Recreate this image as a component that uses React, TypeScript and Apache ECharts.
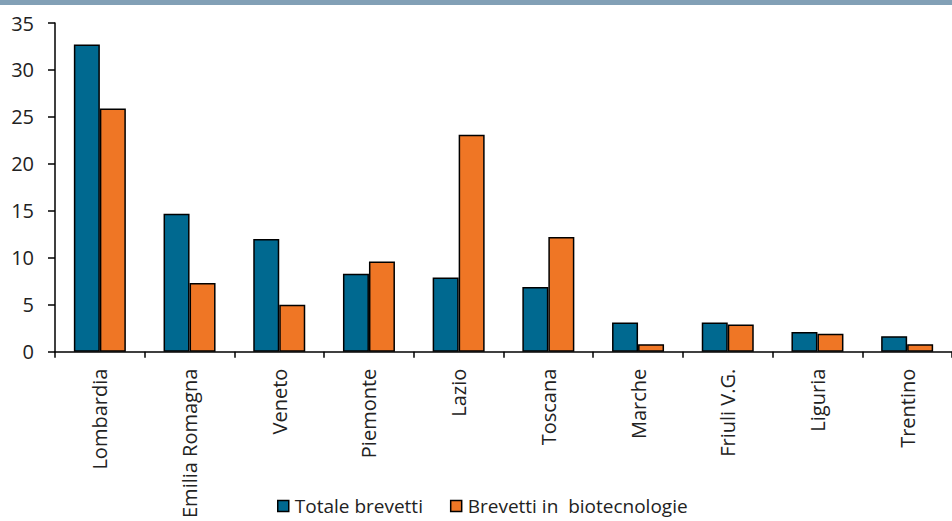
import React, { useEffect, useRef } from "react";
import * as echarts from "echarts";

const categories = [
  "Lombardia",
  "Emilia Romagna",
  "Veneto",
  "Piemonte",
  "Lazio",
  "Toscana",
  "Marche",
  "Friuli V.G.",
  "Liguria",
  "Trentino",
];
const totaleBrevetti = [32.7, 14.7, 12.0, 8.3, 7.9, 6.9, 3.1, 3.1, 2.1, 1.65];
const brevettiBiotec = [25.9, 7.3, 5.0, 9.6, 23.1, 12.2, 0.8, 2.9, 1.9, 0.8];
const seriesNames = ["Totale brevetti", "Brevetti in  biotecnologie"];

const FONT = "Open Sans";
const TEXT = "#222222";

export default function App() {
  const ref = useRef<HTMLDivElement>(null);
  useEffect(() => {
    document.body.style.margin = "0";
    const chart = echarts.init(ref.current!, null, { renderer: "svg" });
    chart.setOption({
      animation: false,
      backgroundColor: "#ffffff",
      textStyle: { fontFamily: FONT },
      graphic: [
        {
          type: "rect",
          left: 0,
          top: 0,
          shape: { width: 952, height: 5 },
          style: { fill: "#82A0B6" },
        },
      ],
      grid: { left: 55, right: -8, top: 23, bottom: 166, containLabel: false },
      legend: {
        left: 277,
        top: 496,
        padding: 0,
        icon: "rect",
        itemWidth: 11,
        itemHeight: 11,
        itemGap: 27,
        itemStyle: { borderColor: "#000", borderWidth: 1.5 },
        textStyle: {
          fontFamily: FONT,
          fontSize: 19,
          lineHeight: 20,
          color: TEXT,
          padding: [0, 0, 0, 1],
        },
        data: seriesNames,
      },
      xAxis: {
        type: "category",
        data: categories,
        boundaryGap: true,
        axisLine: { show: true, lineStyle: { color: "#000", width: 1.5 } },
        axisTick: { show: true, length: 6, lineStyle: { color: "#000", width: 1.5 } },
        axisLabel: {
          rotate: 90,
          interval: 0,
          margin: 17,
          fontFamily: FONT,
          fontSize: 20,
          color: TEXT,
        },
        splitLine: { show: false },
      },
      yAxis: {
        type: "value",
        min: 0,
        max: 35,
        interval: 5,
        axisLine: { show: true, lineStyle: { color: "#000", width: 1.5 } },
        axisTick: { show: true, length: 7, lineStyle: { color: "#000", width: 1.5 } },
        axisLabel: { margin: 21, fontFamily: FONT, fontSize: 20, color: TEXT },
        splitLine: { show: false },
      },
      series: [
        {
          name: seriesNames[0],
          type: "bar",
          data: totaleBrevetti,
          barWidth: 26,
          barGap: "0%",
          itemStyle: { color: "#006990", borderColor: "#000", borderWidth: 1.5 },
        },
        {
          name: seriesNames[1],
          type: "bar",
          data: brevettiBiotec,
          barWidth: 26,
          barGap: "0%",
          itemStyle: { color: "#EF7625", borderColor: "#000", borderWidth: 1.5 },
        },
      ],
    });
    return () => chart.dispose();
  }, []);
  return (
    <div
      ref={ref}
      style={{ position: "fixed", left: 0, top: 0, width: 952, height: 521 }}
    />
  );
}
